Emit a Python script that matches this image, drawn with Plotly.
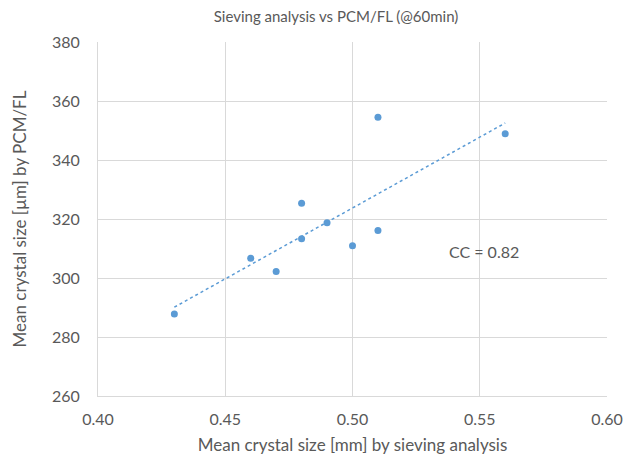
import numpy as np
import plotly.graph_objects as go

# Data
sieve_mm = [0.43, 0.46, 0.47, 0.48, 0.48, 0.49, 0.50, 0.51, 0.51, 0.56]
pcm_um = [287.8, 306.7, 302.2, 325.3, 313.3, 318.7, 310.9, 354.5, 316.1, 348.9]
x_ticks = [0.40, 0.45, 0.50, 0.55, 0.60]
y_ticks = [260, 280, 300, 320, 340, 360, 380]

title_text = "Sieving analysis vs PCM/FL (@60min)"
x_title = "Mean crystal size [mm] by sieving analysis"
y_title = "Mean crystal size [µm] by PCM/FL"
cc_label = "CC = 0.82"

# Linear trendline (least squares) over data range
xa = np.array(sieve_mm)
ya = np.array(pcm_um)
slope, intercept = np.polyfit(xa, ya, 1)
trend_x = [xa.min(), xa.max()]
trend_y = [slope * v + intercept for v in trend_x]

blue = "#5b9bd5"
grey_text = "#595959"
grid = "#d9d9d9"
font_family = "Lato, 'Open Sans', sans-serif"

fig = go.Figure()
fig.add_trace(go.Scatter(
    x=trend_x, y=trend_y, mode="lines",
    line=dict(color=blue, width=1.5, dash="dot"),
    hoverinfo="skip", showlegend=False,
))
fig.add_trace(go.Scatter(
    x=sieve_mm, y=pcm_um, mode="markers",
    marker=dict(color=blue, size=7),
    showlegend=False,
))

fig.add_annotation(
    x=0.5515, y=308.9, text=cc_label, showarrow=False,
    font=dict(family=font_family, size=16, color=grey_text),
)

fig.update_layout(
    width=635, height=463,
    margin=dict(l=97.5, r=19, t=41.7, b=61.3),
    paper_bgcolor="white", plot_bgcolor="white",
    font=dict(family=font_family, color=grey_text),
    title=dict(
        text=title_text, x=336 / 635, xanchor="center",
        y=1 - 17 / 463, yanchor="middle",
        font=dict(family=font_family, size=15, color=grey_text),
    ),
    xaxis=dict(
        range=[0.40, 0.60], tickvals=x_ticks,
        ticktext=[f"{v:.2f}" for v in x_ticks],
        showgrid=True, gridcolor=grid, gridwidth=1,
        zeroline=False, showline=True, linecolor=grid, linewidth=1,
        ticks="", ticklabelstandoff=9,
        tickfont=dict(size=16, color=grey_text),
        title=dict(text=x_title, font=dict(size=17, color=grey_text), standoff=11),
    ),
    yaxis=dict(
        range=[260, 380], tickvals=y_ticks,
        showgrid=True, gridcolor=grid, gridwidth=1,
        zeroline=False, showline=True, linecolor=grid, linewidth=1,
        ticks="", ticklabelstandoff=14,
        tickfont=dict(size=16, color=grey_text),
        title=dict(text=y_title, font=dict(size=17, color=grey_text), standoff=21),
    ),
)

fig.write_html("out.html")
